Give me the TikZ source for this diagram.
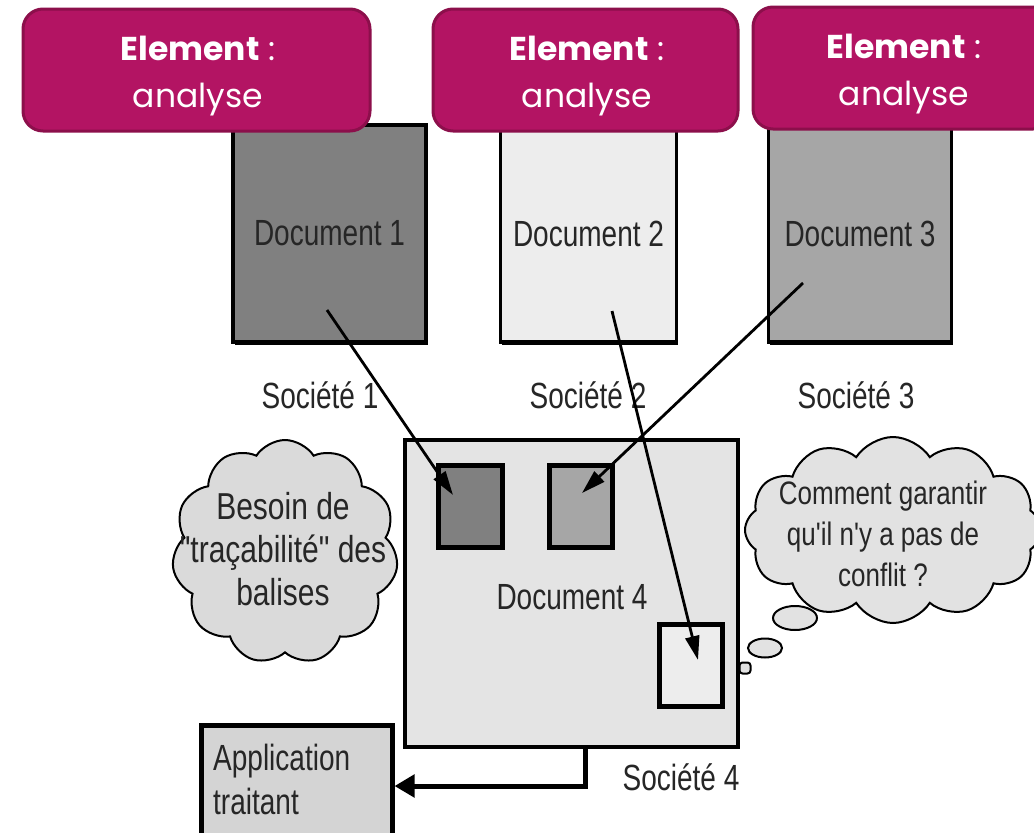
\documentclass[tikz,border=0pt]{standalone}
\usepackage{fontspec}
\setmainfont{Liberation Sans}
\newfontfamily\titlefont{Poppins}
\usetikzlibrary{arrows.meta,shapes.symbols,shapes.geometric,shadows}
\definecolor{mag}{HTML}{B31463}
\definecolor{magdark}{HTML}{8C0F4B}
\definecolor{gA}{HTML}{808080}
\definecolor{gB}{HTML}{EDEDED}
\definecolor{gC}{HTML}{A6A6A6}
\definecolor{gD}{HTML}{E4E4E4}
\definecolor{gcloud}{HTML}{DADADA}
\definecolor{gcloudR}{HTML}{E2E2E2}
\definecolor{gapp}{HTML}{D4D4D4}
\definecolor{ink}{HTML}{262626}
\newcommand\vst[1]{\scalebox{1}[1.3]{#1}}
\newcommand\vsc[1]{\scalebox{1}[1.25]{#1}}
\begin{document}
\begin{tikzpicture}[x=1pt,y=-1pt,
  every node/.style={text=ink},
  doc/.style={draw=black, line width=3.5pt, inner sep=0pt,
    font=\fontsize{28}{34}\selectfont,
    drop shadow={shadow xshift=1.5pt,shadow yshift=-3pt,fill=black,opacity=1}},
  smallbox/.style={draw=black, line width=5pt, inner sep=0pt},
  lbl/.style={font=\fontsize{28}{34}\selectfont, inner sep=0pt},
  titlebox/.style={rounded corners=20pt, fill=mag, draw=magdark, line width=3pt,
    inner sep=0pt, minimum height=122pt},
  titletext/.style={inner sep=0pt, text=white, align=center,
    font=\titlefont\fontsize{33}{47}\selectfont},
  cloudbox/.style={cloud, cloud puffs=11, cloud puff arc=115, draw=black,
    line width=2pt, inner sep=0pt},
  bubble/.style={ellipse, draw=black, line width=2pt, fill=gcloudR, inner sep=0pt},
  conn/.style={line width=2.8pt, draw=black,
    -{Triangle[length=24pt,width=14pt]}},
]
\useasboundingbox (0,0) rectangle (1034,833);
\fill[white] (0,0) rectangle (1034,833);

% documents 1-3
\node[doc, fill=gA, minimum width=193pt, minimum height=217pt] (d1) at (329.5,233.5) {\vst{Document 1}};
\node[doc, fill=gB, minimum width=176pt, minimum height=217pt] (d2) at (588.5,233.5) {\vst{Document 2}};
\node[doc, fill=gC, minimum width=183pt, minimum height=217pt] (d3) at (860,233.5) {\vst{Document 3}};

\node[lbl] (s1) at (320,395) {\vst{Société 1}};
\node[lbl] (s2) at (588,395) {\vst{Société 2}};
\node[lbl] (s3) at (856,395) {\vst{Société 3}};

% document 4
\node[draw=black, line width=4pt, fill=gD, inner sep=0pt,
  minimum width=333pt, minimum height=307pt] (d4) at (571.5,593.5) {};
\node[lbl] (d4t) at (572,597) {\vst{Document 4}};
\node[smallbox, fill=gA, minimum width=64pt, minimum height=82pt] (ba) at (470,506.5) {};
\node[smallbox, fill=gC, minimum width=63pt, minimum height=82pt] (bb) at (580.5,506.5) {};
\node[smallbox, fill=gB, minimum width=63pt, minimum height=82pt] (bc) at (690.5,665) {};

\node[lbl] (s4) at (681,777) {\vst{Société 4}};

% clouds
\node[cloudbox, fill=gcloud, minimum width=226pt, minimum height=224pt] (c1) at (285,552) {};
\node[inner sep=0pt, font=\fontsize{30}{34.4}\selectfont] (c1t) at (283,554)
  {\vsc{\begin{tabular}{@{}c@{}}Besoin de\\\textquotedbl traçabilité\textquotedbl{} des\\balises\end{tabular}}};

\node[cloudbox, fill=gcloudR, cloud puffs=12, minimum width=296pt, minimum height=186pt] (c2) at (893,530) {};
\node[inner sep=0pt, font=\fontsize{26}{32.8}\selectfont] (c2t) at (883,537)
  {\vsc{\begin{tabular}{@{}c@{}}Comment garantir\\qu\textquotesingle il n\textquotesingle y a pas de\\conflit ?\end{tabular}}};
\node[bubble, minimum width=44pt, minimum height=24pt] (e1) at (795,618) {};
\node[bubble, minimum width=34pt, minimum height=19pt] (e2) at (765,648) {};
\node[draw=black, line width=2pt, fill=gcloudR, rounded corners=3pt,
  minimum width=11pt, minimum height=11pt, inner sep=0pt] (e3) at (745,668) {};

% application
\node[draw=black, line width=5pt, fill=gapp, inner sep=0pt,
  minimum width=191pt, minimum height=122pt] (app) at (296.5,786) {};
\node[inner sep=0pt, anchor=west, font=\fontsize{28}{34}\selectfont] (appt) at (213,784)
  {\vst{\begin{tabular}{@{}l@{}}Application\\traitant\end{tabular}}};

% arrows
\coordinate (p1) at (327,310);
\coordinate (q1) at (453,495);
\coordinate (p2) at (803,283);
\coordinate (q2) at (582,493);
\coordinate (p3) at (612,311);
\coordinate (q3) at (698,660);
\draw[conn] (p1) -- (q1);
\draw[conn] (p2) -- (q2);
\draw[conn] (p3) -- (q3);

\coordinate (k) at (585,747);
\draw[line width=5pt, -{Triangle[length=20pt,width=22pt]}] (k) |- (app.east);

% title boxes
\node[titlebox, minimum width=347pt] (h1) at (196.5,70) {};
\node[titletext] (h1t) at (198,76) {\textbf{Element} :\\analyse};
\node[titlebox, minimum width=305pt] (h2) at (585.5,70) {};
\node[titletext] (h2t) at (587,76) {\textbf{Element} :\\analyse};
\node[titlebox, minimum width=300pt] (h3) at (903,68) {};
\node[titletext] (h3t) at (904,74) {\textbf{Element} :\\analyse};
\end{tikzpicture}
\end{document}
